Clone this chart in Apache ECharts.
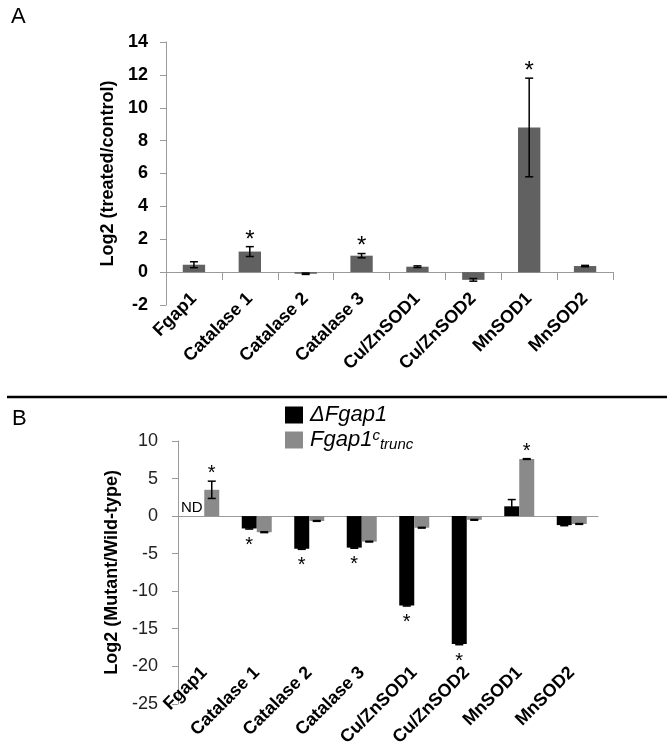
<!DOCTYPE html>
<html>
<head>
<meta charset="utf-8">
<script src="https://cdn.jsdelivr.net/npm/echarts@6/dist/echarts.min.js"></script>
<style>
html,body{margin:0;padding:0;background:#fff;}
#chart{width:667px;height:749px;}
</style>
</head>
<body>
<div id="chart"></div>
<script>
// ---- Data ----
const categories = ['Fgap1', 'Catalase 1', 'Catalase 2', 'Catalase 3', 'Cu/ZnSOD1', 'Cu/ZnSOD2', 'MnSOD1', 'MnSOD2'];

// Panel A: Log2 (treated/control)
const valA = [0.45, 1.25, -0.1, 1.0, 0.33, -0.47, 8.8, 0.37];
const errA = [0.18, 0.3, 0.04, 0.13, 0.05, 0.08, 3.0, 0.04];
const sigA = [0, 1, 0, 1, 0, 0, 1, 0];

// Panel B: Log2 (Mutant/Wild-type)
const deltaB = [null, -1.65, -4.35, -4.2, -11.9, -17.05, 1.3, -1.2];
const deltaErrB = [0, 0.08, 0.08, 0.08, 0.08, 0.08, 0.9, 0.08];
const sigDeltaB = [0, 1, 1, 1, 1, 1, 0, 0];
const ndDeltaB = [1, 0, 0, 0, 0, 0, 0, 0];

const truncB = [3.5, -2.15, -0.65, -3.4, -1.55, -0.5, 7.6, -1.05];
const truncErrB = [1.15, 0.05, 0.05, 0.05, 0.05, 0.05, 0.05, 0.05];
const sigTruncB = [1, 0, 0, 0, 0, 0, 1, 0];

const ticksA = {min: -2, max: 14, interval: 2};
const ticksB = {min: -25, max: 10, interval: 5};

// ---- Chart ----
const FONT = 'Liberation Sans, Arial, Helvetica, sans-serif';
const chart = echarts.init(document.getElementById('chart'));

function errRender(offset, starSize, starGap) {
  return function (params, api) {
    const i = api.value(0), v = api.value(1), e = api.value(2), s = api.value(3), nd = api.value(4);
    const children = [];
    const xc = api.coord([i, 0])[0] + offset;
    if (nd) {
      const p0 = api.coord([i, 0]);
      children.push({type: 'text', style: {text: 'ND', x: xc - 5, y: p0[1] - 1, fill: '#000',
        font: '15px ' + FONT, textAlign: 'center', textVerticalAlign: 'bottom'}});
      return {type: 'group', children: children};
    }
    if (isNaN(v)) return {type: 'group', children: []};
    const yt = api.coord([i, v + e])[1], yb = api.coord([i, v - e])[1];
    const cap = 4;
    const st = {stroke: '#000', lineWidth: 1.5};
    children.push({type: 'line', shape: {x1: xc, y1: yt, x2: xc, y2: yb}, style: st});
    children.push({type: 'line', shape: {x1: xc - cap, y1: yt, x2: xc + cap, y2: yt}, style: st});
    children.push({type: 'line', shape: {x1: xc - cap, y1: yb, x2: xc + cap, y2: yb}, style: st});
    if (s) {
      const sy = v >= 0 ? yt - starGap : yb + starGap;
      children.push({type: 'text', style: {text: '*', x: xc, y: sy + starSize * 0.22, fill: '#000',
        font: starSize + 'px ' + FONT, textAlign: 'center', textVerticalAlign: 'middle'}});
    }
    return {type: 'group', children: children};
  };
}

const errDataA = valA.map((v, i) => [i, v, errA[i], sigA[i], 0]);
const errDataDelta = deltaB.map((v, i) => [i, v == null ? NaN : v, deltaErrB[i], sigDeltaB[i], ndDeltaB[i]]);
const errDataTrunc = truncB.map((v, i) => [i, v, truncErrB[i], sigTruncB[i], 0]);

const axisGrey = '#9a9a9a';

const option = {
  animation: false,
  backgroundColor: '#fff',
  grid: [
    {left: 166, right: 54, top: 42, bottom: 444},
    {left: 178, right: 69, top: 441, bottom: 32}
  ],
  legend: {
    orient: 'vertical', left: 280, top: 399,
    itemWidth: 18, itemHeight: 17, itemGap: 1,
    icon: 'rect',
    data: ['ΔFgap1', 'Fgap1c_trunc'],
    formatter: function (name) {
      return name === 'ΔFgap1' ? '{i|ΔFgap1}' : '{i|Fgap1}{sup|c}{sub|trunc}';
    },
    textStyle: {
      fontFamily: FONT, fontSize: 22, fontStyle: 'italic', color: '#000', padding: [0, 0, 0, 2],
      rich: {
        i: {fontFamily: FONT, fontSize: 22, fontStyle: 'italic', color: '#000', lineHeight: 24},
        sup: {fontFamily: FONT, fontSize: 15, fontStyle: 'italic', color: '#000', lineHeight: 14, verticalAlign: 'top'},
        sub: {fontFamily: FONT, fontSize: 15, fontStyle: 'italic', color: '#000', lineHeight: 14, verticalAlign: 'bottom', padding: [10, 0, 0, 0]}
      }
    }
  },
  xAxis: [
    {gridIndex: 0, type: 'category', data: categories,
     axisLine: {onZero: true, lineStyle: {color: axisGrey, width: 1}},
     axisTick: {show: true, length: 8, lineStyle: {color: axisGrey}},
     axisLabel: {rotate: 45, interval: 0, margin: -9, fontSize: 18, fontWeight: 'bold', color: '#000', fontFamily: FONT}},
    {gridIndex: 1, type: 'category', data: categories,
     axisLine: {onZero: true, lineStyle: {color: axisGrey, width: 1}},
     axisTick: {show: false},
     axisLabel: {rotate: 45, interval: 0, margin: -34, fontSize: 18, fontWeight: 'bold', color: '#000', fontFamily: FONT}}
  ],
  yAxis: [
    {gridIndex: 0, type: 'value', min: ticksA.min, max: ticksA.max, interval: ticksA.interval,
     name: 'Log2 (treated/control)', nameLocation: 'middle', nameGap: 33,
     nameTextStyle: {fontSize: 18, fontWeight: 'bold', color: '#000', fontFamily: FONT},
     axisLine: {show: true, lineStyle: {color: axisGrey}},
     axisTick: {show: true, length: 6, lineStyle: {color: axisGrey}},
     splitLine: {show: false},
     axisLabel: {fontSize: 18, fontWeight: 'bold', color: '#000', margin: 18, fontFamily: FONT}},
    {gridIndex: 1, type: 'value', min: ticksB.min, max: ticksB.max, interval: ticksB.interval,
     name: 'Log2 (Mutant/Wild-type)', nameLocation: 'middle', nameGap: 56,
     nameTextStyle: {fontSize: 18, fontWeight: 'bold', color: '#000', fontFamily: FONT},
     axisLine: {show: true, lineStyle: {color: axisGrey}},
     axisTick: {show: true, length: 6, lineStyle: {color: axisGrey}},
     splitLine: {show: false},
     axisLabel: {fontSize: 18, color: '#222', margin: 20, fontFamily: FONT}}
  ],
  series: [
    {name: 'A', type: 'bar', xAxisIndex: 0, yAxisIndex: 0, data: valA, barWidth: '40%',
     itemStyle: {color: '#616161'}},
    {type: 'custom', xAxisIndex: 0, yAxisIndex: 0, data: errDataA, z: 5,
     renderItem: errRender(0, 24, 12), encode: {x: 0, y: 1}},
    {name: 'ΔFgap1', type: 'bar', xAxisIndex: 1, yAxisIndex: 1, data: deltaB.map(v => v == null ? '-' : v),
     barWidth: 15, barGap: '0%', itemStyle: {color: '#000'}},
    {name: 'Fgap1c_trunc', type: 'bar', xAxisIndex: 1, yAxisIndex: 1, data: truncB,
     barWidth: 15, barGap: '0%', itemStyle: {color: '#8a8a8a'}},
    {type: 'custom', xAxisIndex: 1, yAxisIndex: 1, data: errDataDelta, z: 5,
     renderItem: errRender(-7.5, 20, 12), encode: {x: 0, y: 1}},
    {type: 'custom', xAxisIndex: 1, yAxisIndex: 1, data: errDataTrunc, z: 5,
     renderItem: errRender(7.5, 20, 12), encode: {x: 0, y: 1}}
  ],
  graphic: [
    {type: 'text', left: 11, top: 6, style: {text: 'A', font: '22px ' + FONT, fill: '#000'}},
    {type: 'text', left: 12, top: 408, style: {text: 'B', font: '22px ' + FONT, fill: '#000'}},
    {type: 'line', shape: {x1: 7, y1: 397, x2: 667, y2: 397}, style: {stroke: '#000', lineWidth: 2.5}}
  ]
};
chart.setOption(option);
</script>
</body>
</html>
